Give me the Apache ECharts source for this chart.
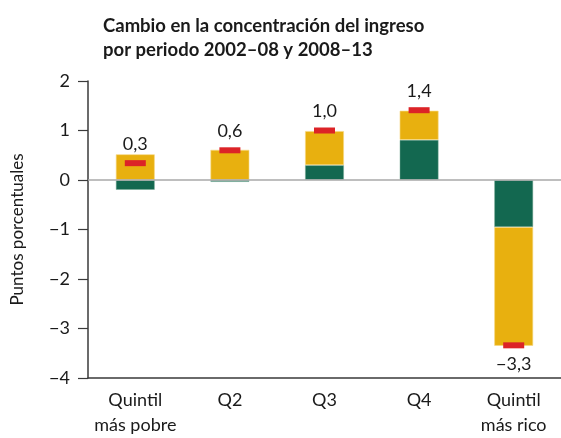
<!DOCTYPE html>
<html>
<head>
<meta charset="utf-8">
<script src="https://cdn.jsdelivr.net/npm/echarts@6/dist/echarts.min.js"></script>
<style>
  html, body { margin: 0; padding: 0; background: #fff; }
  #chart { width: 561px; height: 438px; }
</style>
</head>
<body>
<div id="chart"></div>
<script>
// datos
const categorias = ["Quintil\nmás pobre", "Q2", "Q3", "Q4", "Quintil\nmás rico"];
const periodo1 = [-0.2, -0.04, 0.30, 0.81, -0.95];   // verde
const periodo2 = [0.52, 0.61, 0.69, 0.59, -2.40];    // amarillo
const cambioTotal = [0.34, 0.6, 1.0, 1.41, -3.34];  // marca roja
const etiquetas = ["0,3", "0,6", "1,0", "1,4", "−3,3"];

const font = "Lato, 'Open Sans', sans-serif";
const chart = echarts.init(document.getElementById("chart"));

const option = {
  animation: false,
  textStyle: { fontFamily: font },
  title: {
    text: "Cambio en la concentración del ingreso\npor periodo 2002–08 y 2008–13",
    left: 98,
    top: 9,
    textStyle: {
      fontFamily: font,
      fontWeight: "bold",
      fontSize: 18.5,
      lineHeight: 24,
      color: "#1a1a1a"
    }
  },
  grid: { left: 88, top: 81, height: 302, width: 482 },
  xAxis: {
    type: "category",
    data: categorias,
    axisLine: { onZero: false, lineStyle: { color: "#3a3a3a", width: 1.5 } },
    axisTick: { show: false },
    axisLabel: {
      color: "#1a1a1a",
      fontSize: 18,
      lineHeight: 25,
      margin: 10,
      interval: 0
    }
  },
  yAxis: {
    type: "value",
    min: -4,
    max: 2,
    interval: 1,
    name: "Puntos porcentuales",
    nameLocation: "middle",
    nameGap: 62,
    nameTextStyle: { color: "#1a1a1a", fontSize: 17 },
    axisLine: { show: true, lineStyle: { color: "#3a3a3a", width: 1.5 } },
    axisTick: { show: true, length: 10, lineStyle: { color: "#3a3a3a", width: 1.2 } },
    splitLine: { show: false },
    axisLabel: {
      color: "#1a1a1a",
      fontSize: 18,
      margin: 18,
      formatter: function (v) { return String(v).replace("-", "−"); }
    }
  },
  series: [
    {
      name: "2002–08",
      type: "bar",
      stack: "total",
      barWidth: 39,
      data: periodo1,
      itemStyle: { color: "#136850", borderColor: "rgba(120,170,150,0.6)", borderWidth: 0.8 },
      markLine: {
        silent: true,
        symbol: "none",
        label: { show: false },
        lineStyle: { color: "#a8a8a8", width: 1.5, type: "solid" },
        data: [{ yAxis: 0 }]
      }
    },
    {
      name: "2008–13",
      type: "bar",
      stack: "total",
      barWidth: 39,
      data: periodo2,
      itemStyle: { color: "#e8b00f", borderColor: "rgba(245,215,130,0.8)", borderWidth: 0.8 }
    },
    {
      name: "Total",
      type: "scatter",
      symbol: "rect",
      symbolSize: [21, 6],
      z: 5,
      data: cambioTotal.map(function (v, i) {
        return {
          value: v,
          label: { position: v < 0 ? "bottom" : "top" }
        };
      }),
      itemStyle: { color: "#dc2327", opacity: 1 },
      label: {
        show: true,
        distance: 7,
        fontSize: 18,
        color: "#1a1a1a",
        formatter: function (p) { return etiquetas[p.dataIndex]; }
      }
    }
  ]
};

chart.setOption(option);
</script>
</body>
</html>
